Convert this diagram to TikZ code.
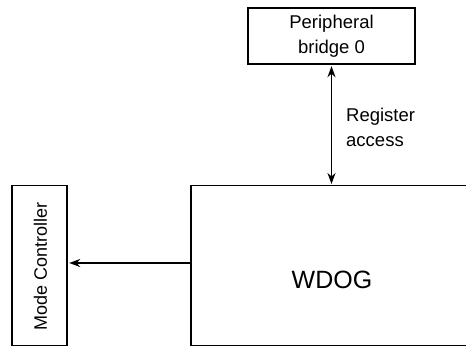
\documentclass[tikz,border=0pt]{standalone}
\usepackage{fontspec}
\setmainfont{Liberation Sans}
\usetikzlibrary{arrows.meta}
\begin{document}
\begin{tikzpicture}[x=1pt,y=1pt,
  box/.style={draw, line width=1.4pt, inner sep=0pt, align=center},
  conn/.style={line width=1.4pt, -{Stealth[length=11pt,width=8pt,inset=3.5pt]}, shorten >=1.5pt},
  bconn/.style={line width=1.4pt, {Stealth[length=11pt,width=8pt,inset=3.5pt]}-{Stealth[length=11pt,width=8pt,inset=3.5pt]}, shorten >=1pt, shorten <=1.5pt},
  lab/.style={font=\fontsize{18.5}{25}\selectfont}]
\useasboundingbox (0,0) rectangle (466,346);
\clip (0,0) rectangle (466,346);
\node[box, lab, minimum width=167pt, minimum height=56pt] (pb) at (331.5,310) {Peripheral\\bridge 0};
\node[box, minimum width=282pt, minimum height=160pt] (wdog) at (332,80.3) {};
\node[font=\fontsize{25}{30}\selectfont] (wdogt) at (332,66) {WDOG};
\node[box, minimum width=55pt, minimum height=160pt] (mc) at (39.5,80.3) {};
\node[rotate=90, font=\fontsize{18}{22}\selectfont] (mct) at (40.5,79.5) {Mode Controller};
\node[lab, anchor=west, align=left, inner sep=0pt] (reg) at (346,219) {Register\\access};
\coordinate (h) at (0,83);
\draw[bconn] (pb.south) -- (pb.south |- wdog.north);
\draw[conn] (wdog.west |- h) -- (mc.east |- h);
\end{tikzpicture}
\end{document}
